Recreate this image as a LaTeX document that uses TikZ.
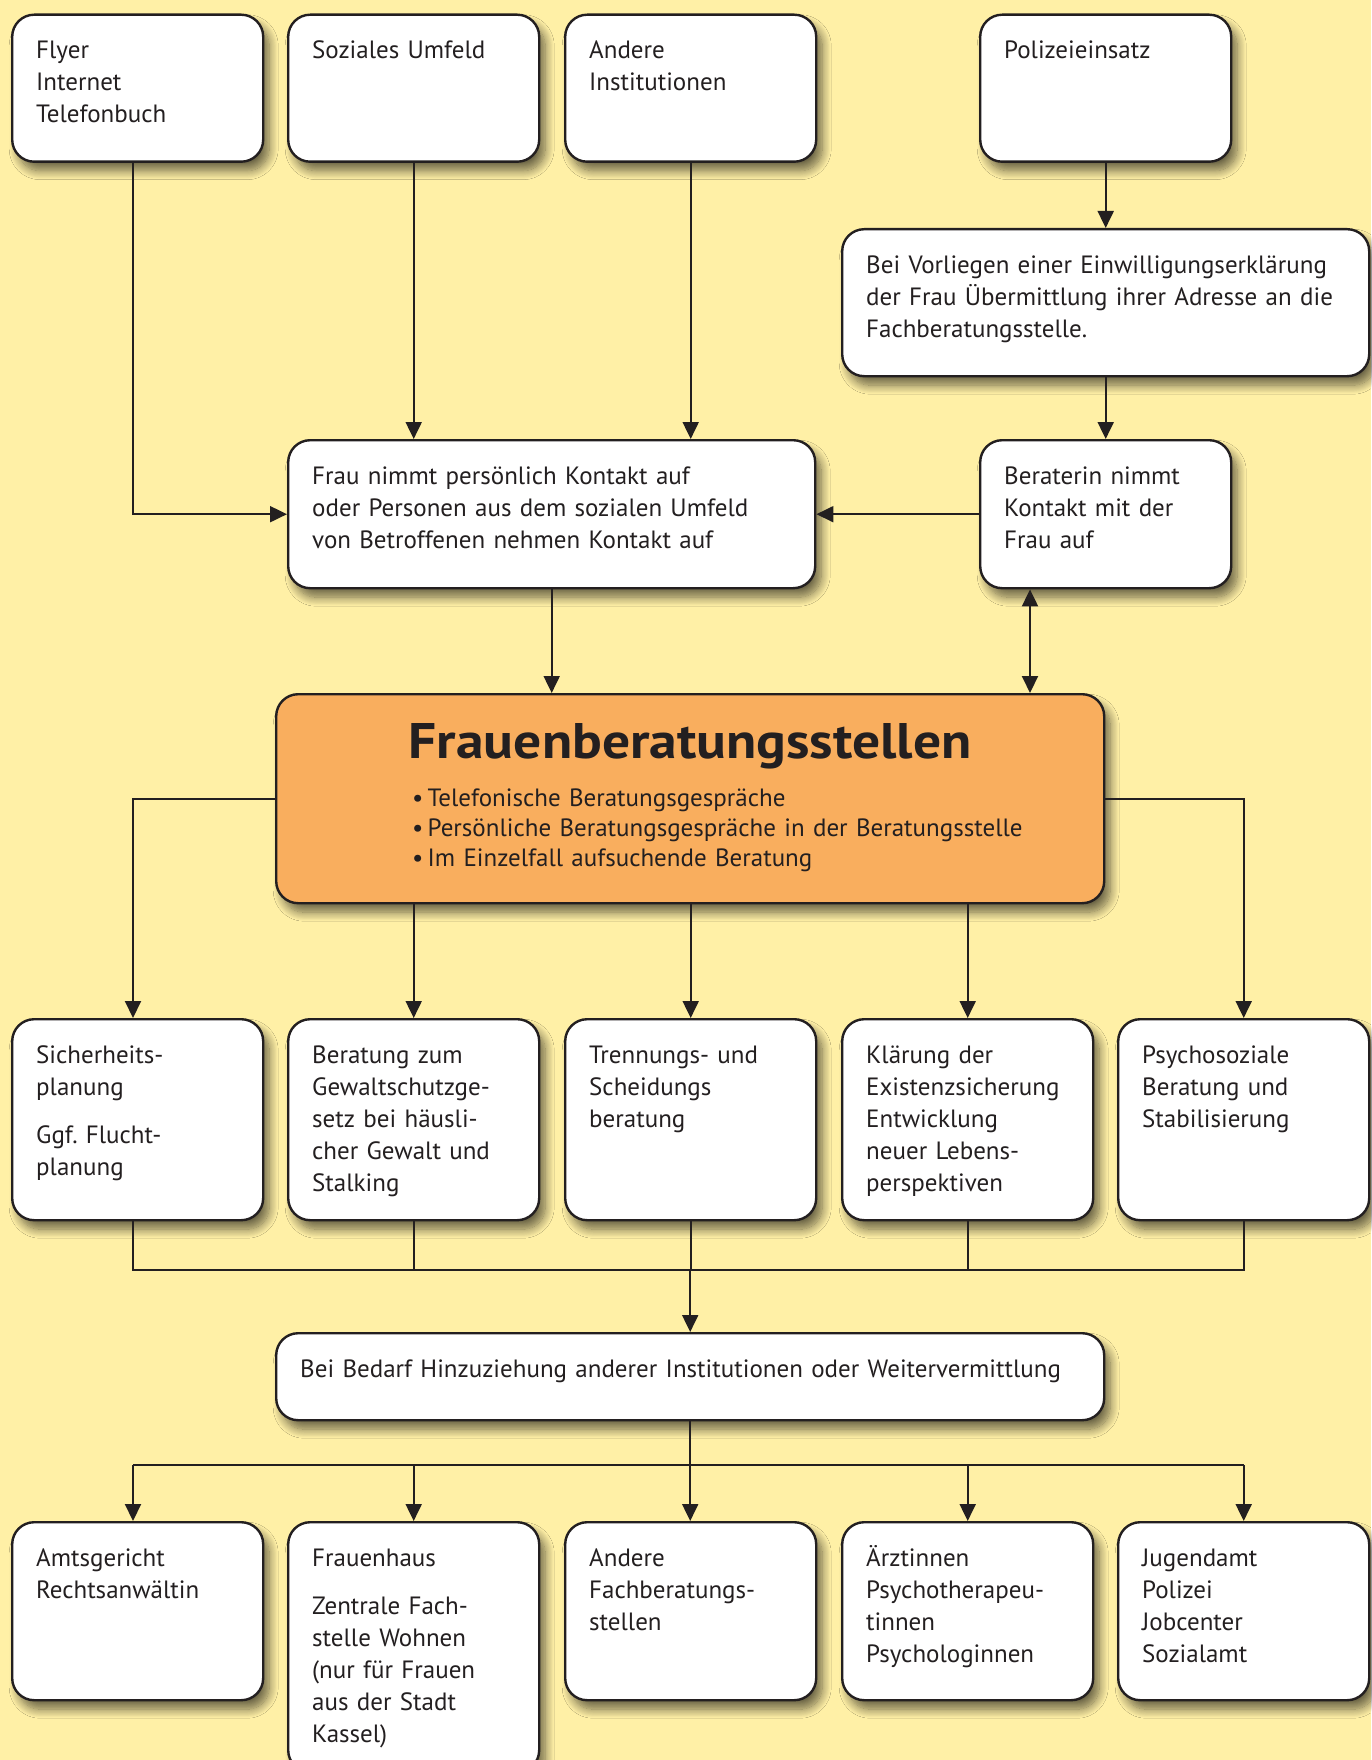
\documentclass[tikz,border=0pt]{standalone}
\usepackage{fontspec}
\setmainfont{PT Sans}
\usetikzlibrary{arrows.meta,shadows.blur}
\definecolor{paper}{HTML}{FFF0A6}
\definecolor{hub}{HTML}{F9AE5E}
\definecolor{ink}{HTML}{231F20}
\begin{document}
\hyphenpenalty=10000
\exhyphenpenalty=10000
\frenchspacing
\begin{tikzpicture}[x=1pt,y=-1pt,
  % width, height, text width (= width - 48), text depth (= height - 44)
  sz/.style n args={4}{minimum width=#1pt,minimum height=#2pt,
      text width=#3pt,text depth=#4pt},
  box/.style={draw=ink,text=ink,line width=2.4pt,fill=white,rounded corners=22pt,
    blur shadow={shadow xshift=6pt,shadow yshift=-9pt,shadow blur radius=9pt,
      shadow blur steps=12,shadow opacity=58},
    anchor=north west,inner xsep=24pt,inner ysep=0pt,align=left,
    text height=44pt,font=\fontsize{25}{32}\selectfont},
  tip/.tip={Triangle[length=17pt,width=16pt]},
  arr/.style={draw=ink,line width=2pt,-tip},
  dbl/.style={draw=ink,line width=2pt,tip-tip},
  ln/.style={draw=ink,line width=2pt}]
\useasboundingbox (0,0) rectangle (1371,1760);
\fill[paper] (0,0) rectangle (1371,1760);

% sources of contact
\node[box,sz={251}{147}{203}{103}] (fly) at (11,13.5) {Flyer\\Internet\\Telefonbuch};
\node[box,sz={251}{147}{203}{103}] (soz) at (287,13.5) {Soziales Umfeld};
\node[box,sz={251}{147}{203}{103}] (and) at (564,13.5) {Andere\\Institutionen};
\node[box,sz={251}{147}{203}{103}] (pol) at (979,13.5) {Polizeieinsatz};
\node[box,sz={527}{147}{479}{103}] (einw) at (841,228) {Bei Vorliegen einer Einwilligungserklärung\\der Frau Übermittlung ihrer Adresse an die\\Fachberatungsstelle.};
\node[box,sz={527}{148}{479}{104}] (frau) at (287,439) {Frau nimmt persönlich Kontakt auf\\oder Personen aus dem sozialen Umfeld\\von Betroffenen nehmen Kontakt auf};
\node[box,sz={251}{148}{203}{104}] (berat) at (979,439) {Beraterin nimmt\\Kontakt mit der\\Frau auf};

% central counselling centre
\node[box,fill=hub,minimum width=828pt,minimum height=209pt,inner xsep=0pt,
  text width=828pt,text height=64pt,text depth=145pt] (main) at (275,693)
  {{\fontsize{50}{54}\selectfont\bfseries\makebox[828pt]{\scalebox{1.11}[1]{Frauenberatungsstellen}}\par}%
   \vspace{18pt}%
   {\fontsize{25}{30}\selectfont\leftskip=136pt
    •\,Telefonische Beratungsgespräche\par
    •\,Persönliche Beratungsgespräche in der Beratungsstelle\par
    •\,Im Einzelfall aufsuchende Beratung\par}};

% services
\node[box,sz={251}{201}{203}{157}] (s1) at (11,1018) {Sicherheits-\\planung\\[16pt]Ggf. Flucht-\\planung};
\node[box,sz={251}{201}{203}{157}] (s2) at (287,1018) {Beratung zum\\Gewaltschutzge-\\setz bei häusli-\\cher Gewalt und\\Stalking};
\node[box,sz={251}{201}{203}{157}] (s3) at (564,1018) {Trennungs- und\\Scheidungs\\beratung};
\node[box,sz={251}{201}{203}{157}] (s4) at (841,1018) {Klärung der\\Existenzsicherung\\Entwicklung\\neuer Lebens-\\perspektiven};
\node[box,sz={251}{201}{203}{157}] (s5) at (1117,1018) {Psychosoziale\\Beratung und\\Stabilisierung};

\node[box,sz={828}{87}{780}{43}] (bed) at (275,1332) {Bei Bedarf Hinzuziehung anderer Institutionen oder Weitervermittlung};

% partner institutions
\node[box,sz={251}{178}{203}{134}] (p1) at (11,1521) {Amtsgericht\\Rechtsanwältin};
\node[box,sz={251}{250}{203}{206}] (p2) at (287,1521) {Frauenhaus\\[16pt]Zentrale Fach-\\stelle Wohnen\\(nur für Frauen\\aus der Stadt\\Kassel)};
\node[box,sz={251}{178}{203}{134}] (p3) at (564,1521) {Andere\\Fachberatungs-\\stellen};
\node[box,sz={251}{178}{203}{134}] (p4) at (841,1521) {Ärztinnen\\Psychotherapeu-\\tinnen\\Psychologinnen};
\node[box,sz={251}{178}{203}{134}] (p5) at (1117,1521) {Jugendamt\\Polizei\\Jobcenter\\Sozialamt};

% the left column's connectors run a little left of the box centres
\coordinate (cl) at (133,0);

% connectors, top part
\draw[arr] (cl |- fly.south) |- (frau.west);
\draw[arr] (soz.south) -- (soz.south |- frau.north);
\draw[arr] (and.south) -- (and.south |- frau.north);
\draw[arr] (pol.south) -- (einw.north -| pol.south);
\draw[arr] (einw.south) -- (berat.north);
\draw[arr] (berat.west) -- (frau.east);
\draw[arr] (frau.south) -- (frau.south |- main.north);
\coordinate (bx) at (1030,0);
\draw[dbl] (bx |- berat.south) -- (bx |- main.north);

% connectors, centre to services
\draw[arr] (main.west) -| (cl |- s1.north);
\draw[arr] (main.east) -| (s5.north);
\draw[arr] (main.south -| s2.north) -- (s2.north);
\draw[arr] (main.south -| s3.north) -- (s3.north);
\draw[arr] (main.south -| s4.north) -- (s4.north);

% services to referral
\path (bed.north) ++(0,-62) coordinate (busa);
\draw[ln] (cl |- s1.south) |- (busa -| s5.south) -- (s5.south);
\draw[ln] (s2.south) -- (busa -| s2.south);
\draw[ln] (s3.south) -- (busa -| s3.south);
\draw[ln] (s4.south) -- (busa -| s4.south);
\draw[arr] (busa) -- (bed.north);

% referral to partner institutions
\path (bed.south) ++(0,44) coordinate (busb);
\draw[ln] (bed.south) -- (busb);
\draw[ln] (busb -| cl) -- (busb -| p5.north);
\draw[arr] (busb -| cl) -- (cl |- p1.north);
\draw[arr] (busb -| p2.north) -- (p2.north);
\draw[arr] (busb) -- (busb |- p3.north);
\draw[arr] (busb -| p4.north) -- (p4.north);
\draw[arr] (busb -| p5.north) -- (p5.north);
\end{tikzpicture}
\end{document}
